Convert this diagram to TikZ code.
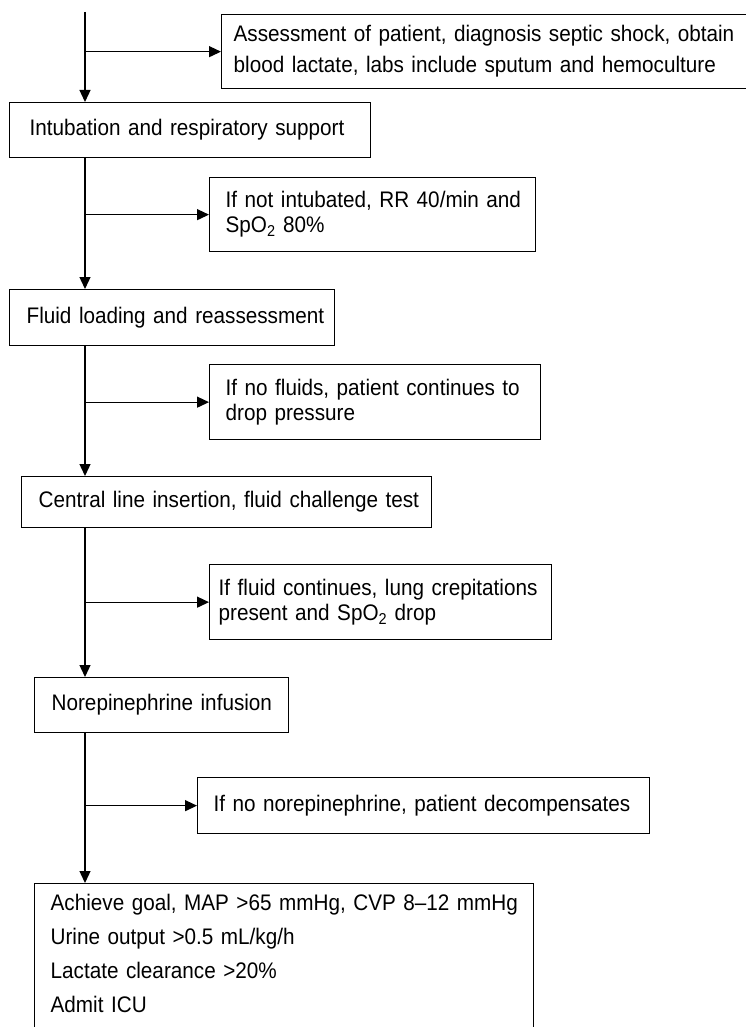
\documentclass[tikz,border=0pt]{standalone}
\usepackage{fontspec}
\setmainfont[FakeStretch=0.92]{Liberation Sans}
\usetikzlibrary{arrows.meta}

\begin{document}
\begin{tikzpicture}[x=1pt, y=-1pt,
		stepbox/.style={
			rectangle, draw=black, line width=1.3pt, anchor=north west,
			align=left, inner xsep=0pt, inner ysep=0pt, font=\fontsize{22.5}{25}\selectfont
		},
		padded/.style 2 args={text width=#1, execute at begin node={\leftskip=#2pt\relax}},
		flow/.style={-{Triangle[length=12pt,width=11pt]}, line width=1.3pt},
	]
	\useasboundingbox (0,0) rectangle (745,1027);
	\coordinate (top) at (85,12);

	\node [stepbox, padded={540}{12}, minimum height=74, font=\fontsize{22.5}{31}\selectfont] (assess) at (221,14)
		{Assessment of patient, diagnosis septic shock, obtain\\blood lactate, labs include sputum and hemoculture};
	\node [stepbox, padded={361}{20}, minimum height=55] (intub) at (9,102)
		{Intubation and respiratory support};
	\node [stepbox, padded={326}{16}, minimum height=74] (nointub) at (209,177)
		{If not intubated, RR 40/min and\\SpO\textsubscript{2} 80\%};
	\node [stepbox, padded={325}{17}, minimum height=56] (fluid) at (9,289)
		{Fluid loading and reassessment};
	\node [stepbox, padded={331}{16}, minimum height=75] (nofluid) at (209,364)
		{If no fluids, patient continues to\\drop pressure};
	\node [stepbox, padded={410}{17}, minimum height=51] (central) at (21,476)
		{Central line insertion, fluid challenge test};
	\node [stepbox, padded={342}{9}, minimum height=75] (crepit) at (209,564)
		{If fluid continues, lung crepitations\\present and SpO\textsubscript{2} drop};
	\node [stepbox, padded={254}{17}, minimum height=55] (norepi) at (34,677)
		{Norepinephrine infusion};
	\node [stepbox, padded={452}{16}, minimum height=56] (nonorepi) at (197,777)
		{If no norepinephrine, patient decompensates};
	\node [stepbox, padded={499}{16}, inner ysep=11, font=\fontsize{22.5}{34}\selectfont] (goal) at (34,883)
		{Achieve goal, MAP >65 mmHg, CVP 8--12 mmHg\\Urine output >0.5 mL/kg/h\\Lactate clearance >20\%\\Admit ICU\\[40pt]\mbox{}};

	% trunk
	\draw[flow] (top) -- (intub.north -| top);
	\draw[flow] (intub.south -| top) -- (fluid.north -| top);
	\draw[flow] (fluid.south -| top) -- (central.north -| top);
	\draw[flow] (central.south -| top) -- (norepi.north -| top);
	\draw[flow] (norepi.south -| top) -- (goal.north -| top);

	% side branches
	\draw[flow] (assess.west -| top) -- (assess.west);
	\draw[flow] (nointub.west -| top) -- (nointub.west);
	\draw[flow] (nofluid.west -| top) -- (nofluid.west);
	\draw[flow] (crepit.west -| top) -- (crepit.west);
	\draw[flow] (nonorepi.west -| top) -- (nonorepi.west);
\end{tikzpicture}
\end{document}
